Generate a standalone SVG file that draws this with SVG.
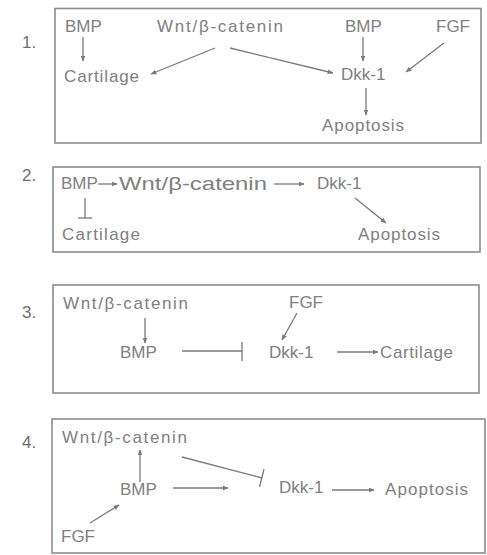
<svg xmlns="http://www.w3.org/2000/svg" width="487" height="555" viewBox="0 0 487 555">
<defs>
<marker id="ah" viewBox="0 0 10 10" refX="9" refY="5" markerWidth="6" markerHeight="6" orient="auto" markerUnits="userSpaceOnUse">
<path d="M0,1 L10,5 L0,9 Z" fill="#7a7a7a"/>
</marker>
<style>
text{font-family:"Liberation Sans",Arial,sans-serif;font-size:17px;fill:#808080}
.num{fill:#6e6e6e;font-size:17px}
.big{font-size:19px}
.box{fill:none;stroke:#8c8c8c;stroke-width:1.6}
.ln{fill:none;stroke:#7a7a7a;stroke-width:1.3}
.ar{marker-end:url(#ah)}
</style>
</defs>
<rect width="487" height="555" fill="#ffffff"/>
<g id="panels">
<rect class="box" x="55" y="8.5" width="426" height="134.5"/>
<rect class="box" x="53" y="167" width="427" height="85"/>
<rect class="box" x="53" y="285" width="426" height="108"/>
<rect class="box" x="52" y="419" width="433" height="134"/>
<text class="num" x="22" y="48">1.</text>
<text class="num" x="22" y="181">2.</text>
<text class="num" x="22" y="318">3.</text>
<text class="num" x="22" y="448">4.</text>
</g>
<g id="p1-bmp1"><text x="65" y="32">BMP</text></g>
<g id="p1-wnt"><text x="157" y="32" textLength="126">Wnt/β-catenin</text></g>
<g id="p1-bmp2"><text x="345" y="32">BMP</text></g>
<g id="p1-fgf"><text x="436" y="32">FGF</text></g>
<g id="p1-cart"><text x="64" y="82" textLength="75">Cartilage</text></g>
<g id="p1-dkk"><text x="341" y="80">Dkk-1</text></g>
<g id="p1-apo"><text x="322" y="131" textLength="82">Apoptosis</text></g>
<g id="p2-bmp"><text x="61" y="189">BMP</text></g>
<g id="p2-wnt"><text class="big" x="119" y="190" textLength="148" lengthAdjust="spacingAndGlyphs">Wnt/β-catenin</text></g>
<g id="p2-dkk"><text x="317" y="189">Dkk-1</text></g>
<g id="p2-cart"><text x="62" y="240" textLength="78">Cartilage</text></g>
<g id="p2-apo"><text x="358" y="240" textLength="82">Apoptosis</text></g>
<g id="p3-wnt"><text x="63" y="309" textLength="125">Wnt/β-catenin</text></g>
<g id="p3-fgf"><text x="289" y="308">FGF</text></g>
<g id="p3-bmp"><text x="120" y="358">BMP</text></g>
<g id="p3-dkk"><text x="269" y="358">Dkk-1</text></g>
<g id="p3-cart"><text x="380" y="358" textLength="73">Cartilage</text></g>
<g id="p4-wnt"><text x="62" y="443" textLength="125">Wnt/β-catenin</text></g>
<g id="p4-bmp"><text x="120" y="495">BMP</text></g>
<g id="p4-dkk"><text x="279" y="493">Dkk-1</text></g>
<g id="p4-apo"><text x="385" y="495" textLength="83">Apoptosis</text></g>
<g id="p4-fgf"><text x="61" y="542">FGF</text></g>
<g id="connectors">
<line class="ln ar" x1="83" y1="37" x2="83" y2="61"/>
<line class="ln ar" x1="215" y1="48" x2="151" y2="74"/>
<line class="ln ar" x1="230" y1="48" x2="333" y2="73"/>
<line class="ln ar" x1="363" y1="37" x2="363" y2="61"/>
<line class="ln ar" x1="444" y1="43" x2="406" y2="72"/>
<line class="ln ar" x1="366" y1="88" x2="366" y2="115"/>
<line class="ln ar" x1="98" y1="184" x2="117" y2="184"/>
<line class="ln ar" x1="274" y1="184" x2="304" y2="184"/>
<line class="ln ar" x1="355" y1="198" x2="386" y2="223"/>
<line class="ln" x1="85" y1="198" x2="85" y2="218"/>
<line class="ln" x1="78" y1="218" x2="92" y2="218"/>
<line class="ln ar" x1="145" y1="318" x2="145" y2="343"/>
<line class="ln" x1="182" y1="351" x2="242" y2="351"/>
<line class="ln" x1="242" y1="342" x2="242" y2="361"/>
<line class="ln ar" x1="297" y1="313" x2="282" y2="340"/>
<line class="ln ar" x1="337" y1="352" x2="378" y2="352"/>
<line class="ln ar" x1="140" y1="482" x2="140" y2="450"/>
<line class="ln ar" x1="173" y1="488" x2="228" y2="488"/>
<line class="ln ar" x1="90" y1="523" x2="119" y2="505"/>
<line class="ln" x1="182" y1="457" x2="262" y2="478"/>
<line class="ln" x1="264" y1="469" x2="259.5" y2="487"/>
<line class="ln ar" x1="332" y1="490" x2="374" y2="490"/>
</g>
</svg>
